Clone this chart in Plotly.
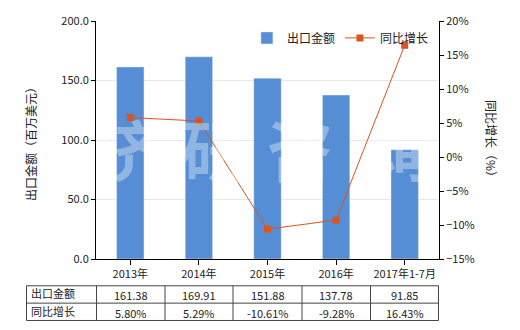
import plotly.graph_objects as go

categories = ["2013年", "2014年", "2015年", "2016年", "2017年1-7月"]
export_values = [161.38, 169.91, 151.88, 137.78, 91.85]
growth_values = [5.80, 5.29, -10.61, -9.28, 16.43]
export_labels = ["161.38", "169.91", "151.88", "137.78", "91.85"]
growth_labels = ["5.80%", "5.29%", "-10.61%", "-9.28%", "16.43%"]
row_names = ["出口金额", "同比增长"]
watermark_chars = ["济", "研", "咨", "询"]

FONT = "Noto Sans CJK SC"
BAR = "#558ED5"
LINE = "#D9541E"

L, R, T, B = 96, 81, 19, 71
W, H = 520, 330
pw, ph = W - L - R, H - T - B

def px(x):
    return (x - L) / pw

def py(y):
    return (H - B - y) / ph

fig = go.Figure()
fig.add_trace(go.Bar(x=categories, y=export_values, name="出口金额",
                     marker=dict(color=BAR), width=0.4, yaxis="y"))
fig.add_trace(go.Scatter(x=categories, y=growth_values, name="同比增长",
                         mode="lines+markers", yaxis="y2",
                         line=dict(color=LINE, width=1),
                         marker=dict(symbol="square", size=7, color=LINE)))

fig.update_layout(
    width=W, height=H,
    margin=dict(l=L, r=R, t=T, b=B),
    paper_bgcolor="white", plot_bgcolor="white",
    font=dict(family=FONT, size=11, color="#222"),
    showlegend=True,
    legend=dict(orientation="h", x=0.44, y=0.99, xanchor="left", yanchor="top",
                bgcolor="rgba(0,0,0,0)", font=dict(size=12), itemwidth=30,
                traceorder="normal"),
    xaxis=dict(showline=True, linecolor="#000", linewidth=1, ticks="outside",
               ticklen=5, tickcolor="#000", showgrid=False),
    yaxis=dict(range=[0, 200], dtick=50, tickformat=".1f", showline=True,
               linecolor="#000", linewidth=1, ticks="outside", ticklen=4,
               tickcolor="#000", showgrid=True, gridcolor="#E8E8E8", zeroline=False),
    yaxis2=dict(range=[-15, 20], dtick=5, ticksuffix="%", overlaying="y", side="right",
                showline=True, linecolor="#000", linewidth=1, ticks="outside",
                ticklen=4, tickcolor="#000", showgrid=False, zeroline=False),
    bargap=0.6,
)

annotations = []
# axis titles
annotations.append(dict(text="出口金额（百万美元）", x=px(31), y=py(140), xref="paper", yref="paper",
                        xanchor="center", yanchor="middle",
                        textangle=-90, showarrow=False, font=dict(size=12)))
annotations.append(dict(text="同比增长（%）", x=px(491), y=py(140), xref="paper", yref="paper",
                        xanchor="center", yanchor="middle",
                        textangle=90, showarrow=False, font=dict(size=12)))
# watermark
for ch, cx in zip(watermark_chars, [130, 215, 300, 402]):
    annotations.append(dict(text="<b>" + ch + "</b>", x=px(cx), y=py(146), xref="paper", yref="paper",
                            xanchor="center", yanchor="middle",
                            showarrow=False, font=dict(size=66, color="rgba(255,255,255,0.35)",
                                                       family=FONT)))

# table
top, mid, bot = 286, 303.5, 321
left = 26.5
cols = [96.5, 165, 233, 302, 370.5, 438.5]
shapes = []
line_style = dict(color="#444", width=1)
for yy in (top, mid, bot):
    shapes.append(dict(type="line", xref="paper", yref="paper", x0=px(left), x1=px(cols[-1]),
                       y0=py(yy), y1=py(yy), line=line_style))
for xx in [left] + cols:
    shapes.append(dict(type="line", xref="paper", yref="paper", x0=px(xx), x1=px(xx),
                       y0=py(top), y1=py(bot), line=line_style))
rows = [export_labels, growth_labels]
row_y = [(top + mid) / 2, (mid + bot) / 2]
for r, name in enumerate(row_names):
    annotations.append(dict(text=name, x=px(left + 2), y=py(row_y[r] - 1), xref="paper", yref="paper",
                            xanchor="left", yanchor="middle", showarrow=False, font=dict(size=11)))
    for c, txt in enumerate(rows[r]):
        annotations.append(dict(text=txt, x=px((cols[c] + cols[c + 1]) / 2), y=py(row_y[r] + 1),
                                xref="paper", yref="paper", xanchor="center", yanchor="middle",
                                showarrow=False, font=dict(size=11)))

fig.update_layout(annotations=annotations, shapes=shapes)
fig.write_html("out.html")
